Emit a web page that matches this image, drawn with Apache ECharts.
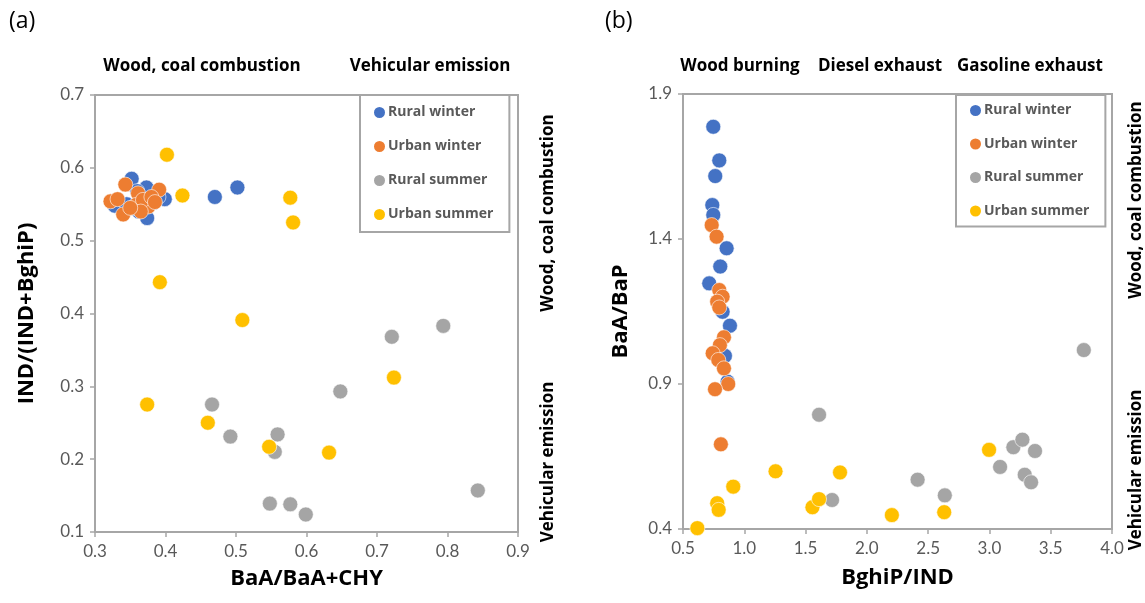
<!DOCTYPE html>
<html>
<head>
<meta charset="utf-8">
<script src="https://cdn.jsdelivr.net/npm/echarts@6/dist/echarts.min.js"></script>
<style>
  html, body { margin: 0; padding: 0; background: #fff; }
  #chart { width: 1145px; height: 603px; }
</style>
</head>
<body>
<div id="chart"></div>
<script>
// panel (a): [BaA/BaA+CHY, IND/(IND+BghiP)]
const ruralWinterA = [
    [0.352, 0.585], [0.373, 0.573], [0.399, 0.557], [0.374, 0.531], [0.328, 0.548],
    [0.345, 0.550], [0.362, 0.540], [0.383, 0.552], [0.360, 0.568], [0.390, 0.560],
    [0.355, 0.545], [0.370, 0.550], [0.470, 0.560], [0.502, 0.573],
];
const urbanWinterA = [
    [0.343, 0.577], [0.391, 0.570], [0.322, 0.554], [0.332, 0.557], [0.340, 0.536],
    [0.361, 0.565], [0.376, 0.547], [0.358, 0.549], [0.368, 0.556], [0.380, 0.560],
    [0.365, 0.540], [0.350, 0.545], [0.385, 0.553],
];
const ruralSummerA = [
    [0.794, 0.383], [0.721, 0.368], [0.648, 0.293], [0.466, 0.275], [0.492, 0.231],
    [0.559, 0.234], [0.555, 0.210], [0.548, 0.139], [0.577, 0.138], [0.599, 0.124],
    [0.843, 0.157],
];
const urbanSummerA = [
    [0.402, 0.618], [0.424, 0.562], [0.577, 0.559], [0.581, 0.525], [0.392, 0.443],
    [0.509, 0.391], [0.724, 0.312], [0.374, 0.275], [0.460, 0.250], [0.547, 0.217],
    [0.632, 0.209],
];

// panel (b): [BghiP/IND, BaA/BaP]
const ruralWinterB = [
    [0.747, 1.787], [0.796, 1.671], [0.763, 1.617], [0.739, 1.517], [0.747, 1.483],
    [0.856, 1.368], [0.804, 1.305], [0.714, 1.247], [0.823, 1.149], [0.883, 1.101],
    [0.842, 0.997], [0.864, 0.908],
];
const urbanWinterB = [
    [0.734, 1.448], [0.774, 1.408], [0.796, 1.224], [0.823, 1.201], [0.779, 1.184],
    [0.796, 1.164], [0.834, 1.061], [0.801, 1.034], [0.742, 1.006], [0.788, 0.983],
    [0.834, 0.954], [0.869, 0.900], [0.761, 0.882], [0.809, 0.692],
];
const ruralSummerB = [
    [1.610, 0.794], [1.716, 0.500], [2.414, 0.570], [2.636, 0.516], [3.087, 0.614],
    [3.195, 0.682], [3.269, 0.708], [3.372, 0.669], [3.288, 0.587], [3.340, 0.561],
    [3.770, 1.017],
];
const urbanSummerB = [
    [0.617, 0.403], [0.779, 0.489], [0.791, 0.466], [0.910, 0.546], [1.255, 0.599],
    [1.556, 0.475], [1.610, 0.503], [1.781, 0.595], [2.204, 0.448], [2.631, 0.458],
    [2.997, 0.673],
];

const seriesNames = ['Rural winter', 'Urban winter', 'Rural summer', 'Urban summer'];
const seriesColors = ['#4472C4', '#ED7D31', '#A5A5A5', '#FFC000'];

const FONT = '"Open Sans"';
const TICK_FONT = 'Lato';
const axisGray = '#A6A6A6';
const labelGray = '#595959';

function valueAxis(gridIndex, min, max, interval, name, gap) {
    return {
        type: 'value',
        gridIndex: gridIndex,
        min: min,
        max: max,
        interval: interval,
        name: name,
        nameLocation: 'middle',
        nameGap: gap,
        nameTextStyle: { fontFamily: FONT, fontWeight: 'bold', fontSize: 22, color: '#000' },
        splitLine: { show: false },
        axisLine: { show: true, lineStyle: { color: axisGray, width: 2 } },
        axisTick: { show: true, length: 5, lineStyle: { color: axisGray, width: 1.5 } },
        axisLabel: {
            fontFamily: TICK_FONT, fontSize: 17, color: labelGray, margin: 11,
            formatter: v => v.toFixed(1),
        },
    };
}

function scatter(name, data, i, panel) {
    return {
        type: 'scatter',
        name: name,
        data: data,
        xAxisIndex: panel,
        yAxisIndex: panel,
        symbolSize: 15,
        itemStyle: { color: seriesColors[i], opacity: 1, borderColor: '#fff', borderWidth: 0.6 },
    };
}

function legendBox(left, top, gap, pad) {
    return {
        data: seriesNames,
        orient: 'vertical',
        left: left,
        top: top,
        icon: 'circle',
        itemWidth: 13,
        itemHeight: 13,
        itemGap: gap,
        padding: pad,
        borderColor: axisGray,
        borderWidth: 2,
        textStyle: { fontFamily: FONT, fontWeight: 'bold', fontSize: 14, color: labelGray, padding: [0, 0, 0, -3] },
    };
}

function label(x, y, text, rotate) {
    return {
        type: 'text',
        x: x,
        y: y,
        rotation: rotate ? Math.PI / 2 : 0,
        style: {
            text: text,
            fontFamily: FONT,
            fontWeight: 'bold',
            fontSize: 17,
            fill: '#000',
            align: 'center',
            verticalAlign: 'middle',
        },
    };
}

const chart = echarts.init(document.getElementById('chart'));

chart.setOption({
    animation: false,
    grid: [
        { left: 95, top: 95, width: 423, height: 437, show: true, borderColor: axisGray, borderWidth: 2 },
        { left: 683, top: 94, width: 429, height: 435, show: true, borderColor: axisGray, borderWidth: 2 },
    ],
    xAxis: [
        valueAxis(0, 0.3, 0.9, 0.1, 'BaA/BaA+CHY', 36),
        valueAxis(1, 0.5, 4.0, 0.5, 'BghiP/IND', 38),
    ],
    yAxis: [
        valueAxis(0, 0.1, 0.7, 0.1, 'IND/(IND+BghiP)', 57),
        valueAxis(1, 0.4, 1.9, 0.5, 'BaA/BaP', 51),
    ],
    legend: [
        legendBox(360, 95, 19, [10, 16, 10, 12]),
        legendBox(956, 95, 18.5, [8, 16, 8, 12]),
    ],
    series: [
        scatter(seriesNames[0], ruralWinterA, 0, 0),
        scatter(seriesNames[1], urbanWinterA, 1, 0),
        scatter(seriesNames[2], ruralSummerA, 2, 0),
        scatter(seriesNames[3], urbanSummerA, 3, 0),
        scatter(seriesNames[0], ruralWinterB, 0, 1),
        scatter(seriesNames[1], urbanWinterB, 1, 1),
        scatter(seriesNames[2], ruralSummerB, 2, 1),
        scatter(seriesNames[3], urbanSummerB, 3, 1),
    ],
    graphic: [
        { type: 'text', x: 9, y: 10, style: { text: '(a)', fontFamily: FONT, fontSize: 23, fill: '#000' } },
        { type: 'text', x: 605, y: 10, style: { text: '(b)', fontFamily: FONT, fontSize: 23, fill: '#000' } },
        label(202, 66, 'Wood, coal combustion'),
        label(430, 66, 'Vehicular emission'),
        label(740, 66, 'Wood burning'),
        label(880, 66, 'Diesel exhaust'),
        label(1030, 66, 'Gasoline exhaust'),
        label(548, 213, 'Wood, coal combustion', true),
        label(548, 462, 'Vehicular emission', true),
        label(1136, 200, 'Wood, coal combustion', true),
        label(1136, 470, 'Vehicular emission', true),
    ],
});
</script>
</body>
</html>
